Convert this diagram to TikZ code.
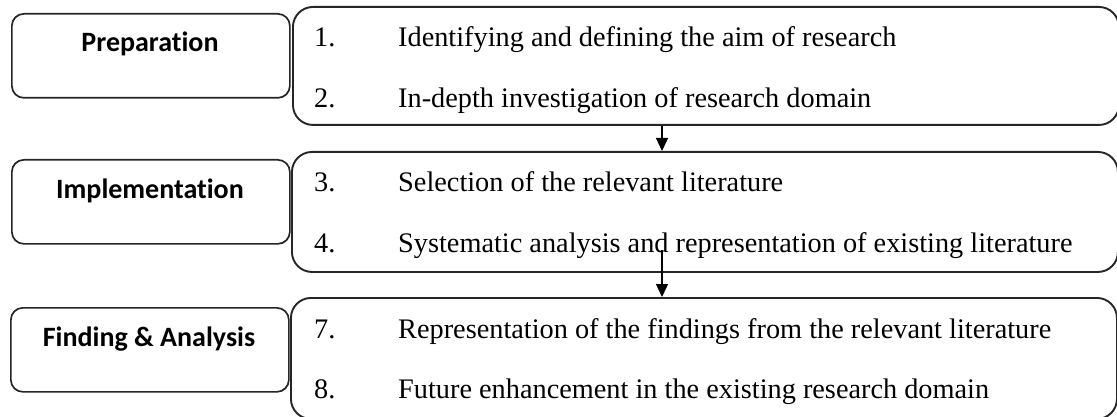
\documentclass[tikz,border=0pt]{standalone}
\usepackage{fontspec}
\setmainfont{Liberation Serif}
\newfontfamily\labelfont[Ligatures={NoCommon}]{Carlito}
\usetikzlibrary{arrows.meta}
\begin{document}
\begin{tikzpicture}[x=1pt,y=-1pt,
  phase/.style={draw=black!85, line width=1.7pt, rounded corners=12pt, minimum width=278pt, minimum height=84pt, anchor=north west, inner sep=0pt},
  itembox/.style={draw=black!85, line width=1.9pt, rounded corners=20pt, minimum width=826pt, minimum height=118pt, anchor=north west, inner sep=0pt},
  phaselabel/.style={font=\labelfont\bfseries\fontsize{28}{31}\selectfont, anchor=base, inner sep=0pt},
  num/.style={font=\fontsize{28.3}{31}\selectfont, anchor=base west, inner sep=0pt},
  itemtext/.style={font=\fontsize{28.3}{31}\selectfont, anchor=base west, inner sep=0pt},
  flow/.style={-{Triangle[length=13pt,width=12pt]}, line width=1.3pt}]
\clip (0,0) rectangle (1117,417);
\fill[white] (0,0) rectangle (1117,417);
% phase boxes
\node[phase] (P1) at (11,13) {};
\node[phase] (P2) at (11,159) {};
\node[phase] (P3) at (10,307) {};
\node[phaselabel] (L1) at (150,52) {Preparation};
\node[phaselabel] (L2) at (150,199) {Implementation};
\node[phaselabel] (L3) at (149,346) {Finding \& Analysis};
% item boxes
\node[itembox] (R1) at (292,6) {};
\node[itembox, minimum height=120pt] (R2) at (291,151) {};
\node[itembox, minimum height=121pt] (R3) at (290,297) {};
% box 1 text
\node[num] (n1) at (314,47) {1.};
\node[itemtext] (t1) at (398,47) {Identifying and defining the aim of research};
\begin{scope}
\clip (292,0) rectangle (1117,113.5);
\node[num] (n2) at (314,108) {2.};
\node[itemtext] (t2) at (398,108) {In-depth investigation of research domain};
\end{scope}
% box 2 text
\node[num] (n3) at (314,192) {3.};
\node[itemtext] (t3) at (398,192) {Selection of the relevant literature};
\node[num] (n4) at (314,252) {4.};
\node[itemtext] (t4) at (398,252) {Systematic analysis and representation of existing literature};
% box 3 text
\node[num] (n7) at (314,338) {7.};
\node[itemtext] (t7) at (398,338) {Representation of the findings from the relevant literature};
\node[num] (n8) at (314,398) {8.};
\node[itemtext] (t8) at (398,398) {Future enhancement in the existing research domain};
% connectors
\coordinate (ax) at (662,0);
\coordinate (a2s) at (662,250);
\draw[flow] (R1.south -| ax) -- (R2.north -| ax);
\draw[flow] (a2s) -- (R3.north -| a2s);
\end{tikzpicture}
\end{document}
